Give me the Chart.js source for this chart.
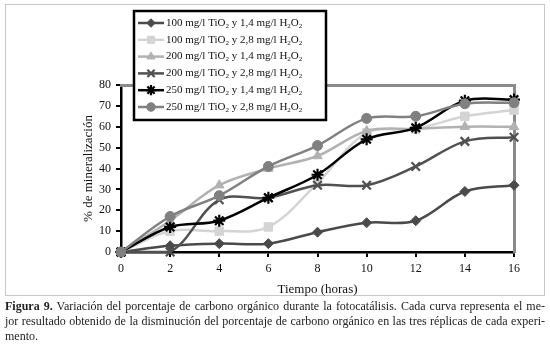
<!DOCTYPE html>
<html lang="es">
<head>
  <meta charset="UTF-8" />
  <title>Figura 9 - Mineralización</title>
  <script src="https://cdn.jsdelivr.net/npm/chart.js"></script>
  <style>
    body { margin: 0; background: #fff; width: 550px; height: 345px; position: relative; overflow: hidden; }
    .marco { position: absolute; left: 5px; top: 4px; width: 540px; height: 292px; border: 1px solid #c8c8c8; box-sizing: border-box; }
    #grafico { position: absolute; left: 0; top: 0; }
    .pie { position: absolute; left: 5px; top: 299px; width: 540px; font-family: "Liberation Serif", serif; font-size: 12px; line-height: 15px; color: #222; }
    .pie div { white-space: nowrap; }
    .pie .just { text-align: justify; text-align-last: justify; }
  </style>
</head>
<body>
  <div class="marco"></div>
  <canvas id="grafico" width="550" height="300"></canvas>

  <!-- pie de figura -->
  <div class="pie">
    <div class="just"><b>Figura 9.</b> Variación del porcentaje de carbono orgánico durante la fotocatálisis. Cada curva representa el me-</div>
    <div class="just">jor resultado obtenido de la disminución del porcentaje de carbono orgánico en las tres réplicas de cada experi-</div>
    <div>mento.</div>
  </div>

  <script>
    // tiempo (horas)
    const tiempo = [0, 2, 4, 6, 8, 10, 12, 14, 16];

    // % de mineralización por experimento
    const tio100_h14 = [0, 3, 4, 4, 9.5, 14, 15, 29, 32];
    const tio100_h28 = [0, 10, 10, 12, 33, 57, 59, 65, 68];
    const tio200_h14 = [0, 15, 32, 40, 46, 58, 59, 60, 60];
    const tio200_h28 = [0, 0, 25, 26, 32, 32, 41, 53, 55];
    const tio250_h14 = [0, 12, 15, 26, 37, 54, 59.5, 72.5, 73];
    const tio250_h28 = [0, 17, 27, 41, 51, 64, 65, 71, 71.5];

    const etiquetas = [
      '100 mg/l TiO₂ y 1,4 mg/l H₂O₂',
      '100 mg/l TiO₂ y 2,8 mg/l H₂O₂',
      '200 mg/l TiO₂ y 1,4 mg/l H₂O₂',
      '200 mg/l TiO₂ y 2,8 mg/l H₂O₂',
      '250 mg/l TiO₂ y 1,4 mg/l H₂O₂',
      '250 mg/l TiO₂ y 2,8 mg/l H₂O₂'
    ];
    const yTicks = [0, 10, 20, 30, 40, 50, 60, 70, 80];
    const xTicks = [0, 2, 4, 6, 8, 10, 12, 14, 16];

    const series = [tio100_h14, tio100_h28, tio200_h14, tio200_h28, tio250_h14, tio250_h28];
    const estilos = [
      { color: '#4a4a4a', punto: 'rectRot', r: 5, bw: 1 },
      { color: '#d4d4d4', punto: 'rect', r: 6, bw: 1 },
      { color: '#b2b2b2', punto: 'triangle', r: 5.5, bw: 1 },
      { color: '#505050', punto: 'crossRot', r: 6, bw: 2.2 },
      { color: '#000000', punto: 'star', r: 6, bw: 2.2 },
      { color: '#808080', punto: 'circle', r: 5, bw: 1 }
    ];

    const datasets = series.map((s, i) => ({
      label: etiquetas[i],
      data: tiempo.map((t, k) => ({ x: t, y: s[k] })),
      borderColor: estilos[i].color,
      backgroundColor: estilos[i].color,
      pointBackgroundColor: estilos[i].color,
      pointBorderColor: estilos[i].color,
      pointBorderWidth: estilos[i].bw,
      pointStyle: estilos[i].punto,
      pointRadius: estilos[i].r,
      borderWidth: 2.5,
      tension: 0.35,
      clip: false,
      order: 6 - i
    }));

    function textoSub(ctx, texto, x, y) {
      const partes = texto.split('₂');
      ctx.fillStyle = '#111';
      ctx.textBaseline = 'middle';
      ctx.textAlign = 'left';
      partes.forEach((p, k) => {
        ctx.font = '11px "Liberation Serif"';
        ctx.fillText(p, x, y);
        x += ctx.measureText(p).width;
        if (k < partes.length - 1) {
          ctx.font = '7px "Liberation Serif"';
          ctx.fillText('2', x, y + 3);
          x += ctx.measureText('2').width;
        }
      });
    }

    // leyenda dentro del gráfico, con recuadro negro
    const leyenda = {
      id: 'leyenda',
      afterDraw(chart) {
        const ctx = chart.ctx;
        ctx.save();
        ctx.fillStyle = '#fff';
        ctx.fillRect(134, 11, 192, 109);
        ctx.strokeStyle = '#000';
        ctx.lineWidth = 2.5;
        ctx.strokeRect(134, 11, 192, 109);
        chart.data.datasets.forEach((ds, i) => {
          const y = 23 + i * 16.8;
          ctx.strokeStyle = ds.borderColor;
          ctx.lineWidth = ds.borderWidth;
          ctx.beginPath();
          ctx.moveTo(138, y);
          ctx.lineTo(164, y);
          ctx.stroke();
          ctx.fillStyle = ds.pointBackgroundColor;
          ctx.strokeStyle = ds.pointBorderColor;
          ctx.lineWidth = ds.pointBorderWidth;
          Chart.helpers.drawPoint(ctx, { pointStyle: ds.pointStyle, radius: ds.pointRadius * 0.85, borderWidth: ds.pointBorderWidth, rotation: 0 }, 151, y);
          textoSub(ctx, ds.label, 166, y);
        });
        ctx.restore();
      }
    };

    const fuente = { family: '"Liberation Serif", serif', size: 12 };

    new Chart(document.getElementById('grafico').getContext('2d'), {
      type: 'line',
      data: { datasets },
      plugins: [leyenda],
      options: {
        responsive: false,
        animation: false,
        devicePixelRatio: 1,
        layout: { padding: { left: 81, top: 85, right: 36, bottom: 3 } },
        plugins: { legend: { display: false }, tooltip: { enabled: false } },
        scales: {
          x: {
            type: 'linear', min: 0, max: 16,
            afterBuildTicks: sc => { sc.ticks = xTicks.map(v => ({ value: v })); },
            afterFit: sc => { sc.height = 45; },
            ticks: { color: '#111', font: fuente, padding: 5, maxRotation: 0 },
            grid: { drawOnChartArea: false, drawTicks: true, tickLength: 5, color: '#000', lineWidth: 2 },
            border: { color: '#000', width: 2.5 },
            title: { display: true, text: 'Tiempo (horas)', color: '#111', font: { family: '"Liberation Serif", serif', size: 13 }, padding: 0 }
          },
          y: {
            min: 0, max: 80,
            afterBuildTicks: sc => { sc.ticks = yTicks.map(v => ({ value: v })); },
            afterFit: sc => { sc.width = 40; },
            ticks: { color: '#111', font: fuente, padding: 5 },
            grid: { drawOnChartArea: false, drawTicks: true, tickLength: 5, color: '#000', lineWidth: 2 },
            border: { color: '#000', width: 2.5 },
            title: { display: true, text: '% de mineralización', color: '#111', font: { family: '"Liberation Serif", serif', size: 13 }, padding: 0 }
          },
          x2: {
            type: 'linear', position: 'top', min: 0, max: 16,
            afterFit: sc => { sc.height = 0; },
            ticks: { display: false },
            grid: { display: false },
            border: { color: '#8a8a8a', width: 3 }
          },
          y2: {
            position: 'right', min: 0, max: 80,
            afterFit: sc => { sc.width = 0; },
            ticks: { display: false },
            grid: { display: false },
            border: { color: '#8a8a8a', width: 3 }
          }
        }
      }
    });
  </script>
</body>
</html>
